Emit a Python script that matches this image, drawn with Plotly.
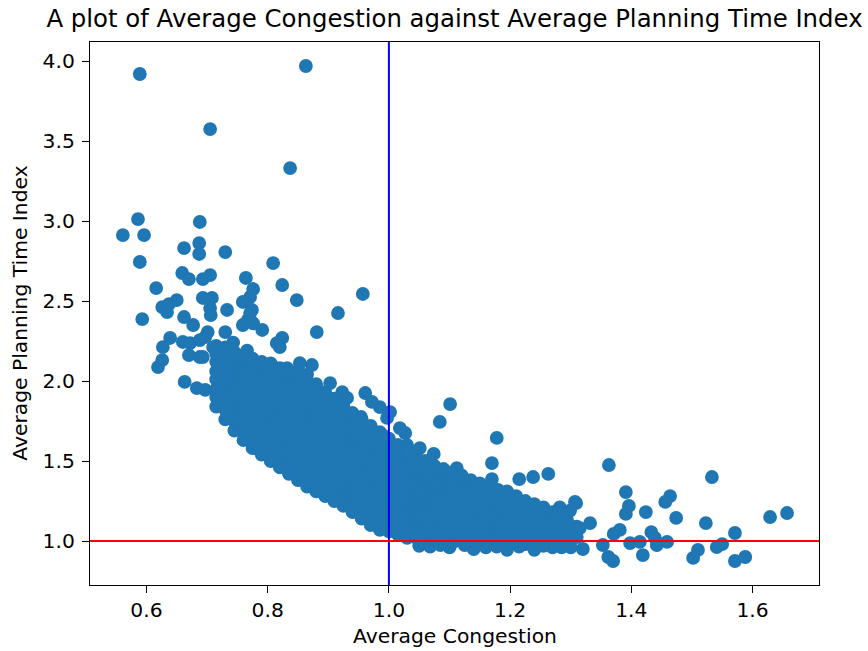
import plotly.graph_objects as go

# ---- data ----
# scattered points above the dense band (congestion, planning time index)
upper_points = [
    (0.589, 3.919), (0.863, 3.969), (0.705, 3.575), (0.837, 3.331),
    (0.586, 3.012), (0.561, 2.912), (0.596, 2.912), (0.688, 2.994),
    (0.662, 2.831), (0.687, 2.862), (0.687, 2.794), (0.730, 2.806),
    (0.589, 2.744), (0.809, 2.737), (0.659, 2.675), (0.670, 2.637),
    (0.693, 2.637), (0.705, 2.662), (0.764, 2.644), (0.824, 2.600),
    (0.616, 2.581), (0.776, 2.575), (0.771, 2.525), (0.693, 2.519),
    (0.708, 2.519), (0.650, 2.506), (0.637, 2.481), (0.626, 2.462),
    (0.634, 2.431), (0.759, 2.494), (0.774, 2.444), (0.733, 2.444),
    (0.705, 2.456), (0.706, 2.412), (0.593, 2.387), (0.662, 2.400),
    (0.677, 2.350), (0.767, 2.381), (0.730, 2.306), (0.701, 2.306),
    (0.791, 2.319), (0.639, 2.269), (0.627, 2.212), (0.660, 2.244),
    (0.672, 2.237), (0.688, 2.256), (0.697, 2.275), (0.824, 2.269),
    (0.820, 2.212), (0.670, 2.162), (0.688, 2.150), (0.626, 2.131),
    (0.619, 2.087), (0.663, 1.994), (0.683, 1.956), (0.697, 1.944),
    (0.848, 2.506), (0.815, 2.237), (0.693, 2.150), (0.771, 2.425),
    (0.759, 2.350), (0.776, 2.360), (0.710, 2.210), (0.743, 2.240),
    (0.766, 2.190), (0.957, 2.544), (0.916, 2.425), (0.881, 2.306),
    (0.873, 2.100), (0.853, 2.112), (0.832, 2.081), (0.903, 1.987),
    (0.923, 1.931), (0.931, 1.894), (0.961, 1.925), (0.972, 1.869),
    (0.985, 1.837), (1.002, 1.806), (0.997, 1.769), (0.954, 1.775),
    (0.990, 1.662), (1.018, 1.706), (1.027, 1.675), (1.030, 1.600),
    (1.051, 1.581), (1.074, 1.544), (1.101, 1.856), (1.084, 1.744),
    (1.112, 1.456), (1.178, 1.644), (1.170, 1.487), (1.263, 1.419),
    (1.238, 1.400), (1.215, 1.387), (1.170, 1.387), (1.307, 1.244),
    (1.282, 1.210), (1.271, 1.150), (1.310, 1.090), (1.310, 1.025),
    (1.290, 1.006), (1.299, 1.190), (1.294, 1.130), (1.287, 1.050),
    (1.285, 0.960),
]

# dense band: congestion column -> planning time index values in that column
dense_columns = [
    (0.715, [1.84, 1.90, 1.95, 2.01, 2.06, 2.12, 2.17, 2.22]),
    (0.730, [1.76, 1.82, 1.87, 1.93, 1.98, 2.04, 2.09, 2.15, 2.21]),
    (0.745, [1.69, 1.75, 1.80, 1.86, 1.91, 1.97, 2.03, 2.08, 2.13, 2.18]),
    (0.760, [1.63, 1.69, 1.74, 1.80, 1.85, 1.91, 1.96, 2.02, 2.07, 2.12, 2.16]),
    (0.775, [1.58, 1.64, 1.69, 1.75, 1.80, 1.86, 1.91, 1.97, 2.03, 2.08, 2.14]),
    (0.790, [1.54, 1.60, 1.65, 1.71, 1.76, 1.82, 1.87, 1.93, 1.98, 2.04, 2.09, 2.12]),
    (0.805, [1.50, 1.56, 1.61, 1.67, 1.72, 1.78, 1.84, 1.89, 1.95, 2.00, 2.06, 2.11]),
    (0.820, [1.46, 1.52, 1.57, 1.63, 1.68, 1.74, 1.80, 1.85, 1.91, 1.96, 2.02, 2.08]),
    (0.835, [1.42, 1.48, 1.53, 1.59, 1.64, 1.70, 1.76, 1.81, 1.87, 1.92, 1.98, 2.03, 2.06]),
    (0.850, [1.38, 1.44, 1.49, 1.55, 1.60, 1.66, 1.72, 1.77, 1.83, 1.88, 1.94, 2.00, 2.06]),
    (0.865, [1.34, 1.40, 1.45, 1.51, 1.56, 1.62, 1.68, 1.73, 1.79, 1.84, 1.90, 1.95, 2.00, 2.04]),
    (0.880, [1.31, 1.37, 1.42, 1.48, 1.53, 1.59, 1.65, 1.70, 1.76, 1.81, 1.87, 1.92, 1.98]),
    (0.895, [1.28, 1.34, 1.39, 1.45, 1.50, 1.56, 1.62, 1.67, 1.73, 1.78, 1.84, 1.89, 1.93]),
    (0.910, [1.25, 1.31, 1.36, 1.42, 1.47, 1.53, 1.59, 1.64, 1.70, 1.75, 1.81, 1.86, 1.89]),
    (0.925, [1.22, 1.28, 1.33, 1.39, 1.44, 1.50, 1.56, 1.61, 1.67, 1.72, 1.78, 1.84]),
    (0.940, [1.18, 1.24, 1.29, 1.35, 1.40, 1.46, 1.52, 1.57, 1.63, 1.68, 1.74, 1.80]),
    (0.955, [1.14, 1.20, 1.25, 1.31, 1.36, 1.42, 1.48, 1.53, 1.59, 1.64, 1.70, 1.76]),
    (0.970, [1.10, 1.16, 1.21, 1.27, 1.32, 1.38, 1.44, 1.49, 1.55, 1.60, 1.66, 1.72]),
    (0.985, [1.07, 1.13, 1.18, 1.24, 1.29, 1.35, 1.41, 1.46, 1.52, 1.57, 1.63, 1.68]),
    (1.000, [1.06, 1.11, 1.17, 1.22, 1.28, 1.34, 1.39, 1.45, 1.50, 1.56, 1.61, 1.64]),
    (1.015, [1.04, 1.10, 1.15, 1.21, 1.26, 1.32, 1.38, 1.43, 1.49, 1.54, 1.60]),
    (1.030, [1.02, 1.08, 1.13, 1.19, 1.24, 1.30, 1.36, 1.41, 1.47, 1.52, 1.56]),
    (1.045, [1.02, 1.07, 1.13, 1.18, 1.24, 1.30, 1.35, 1.41, 1.46, 1.53]),
    (1.060, [1.01, 1.06, 1.12, 1.17, 1.23, 1.29, 1.34, 1.40, 1.45, 1.50]),
    (1.075, [1.00, 1.05, 1.11, 1.16, 1.22, 1.28, 1.33, 1.39, 1.44, 1.47]),
    (1.090, [1.00, 1.05, 1.10, 1.16, 1.21, 1.27, 1.33, 1.38, 1.45]),
    (1.105, [0.99, 1.05, 1.10, 1.16, 1.21, 1.27, 1.32, 1.38, 1.43]),
    (1.120, [1.00, 1.04, 1.10, 1.15, 1.21, 1.26, 1.32, 1.37, 1.41]),
    (1.135, [0.98, 1.04, 1.09, 1.15, 1.20, 1.26, 1.32, 1.38]),
    (1.150, [0.99, 1.04, 1.09, 1.15, 1.20, 1.26, 1.31, 1.36]),
    (1.165, [0.98, 1.04, 1.09, 1.14, 1.20, 1.25, 1.30, 1.34]),
    (1.180, [0.99, 1.04, 1.09, 1.14, 1.20, 1.25, 1.32]),
    (1.195, [0.97, 1.03, 1.08, 1.14, 1.19, 1.25, 1.31]),
    (1.210, [0.99, 1.04, 1.09, 1.14, 1.19, 1.24, 1.28]),
    (1.225, [0.98, 1.03, 1.09, 1.14, 1.19, 1.25]),
    (1.240, [0.99, 1.04, 1.09, 1.14, 1.19, 1.23]),
    (1.255, [1.00, 1.05, 1.10, 1.16, 1.21]),
    (1.270, [1.01, 1.07, 1.12, 1.18]),
    (1.285, [1.02, 1.08, 1.14]),
    (1.300, [1.03, 1.09]),
]

# points that dip just below the red reference line along the band
band_bottom_points = [
    (1.068, 0.965), (1.050, 0.970), (1.100, 0.960), (1.140, 0.950),
    (1.160, 0.960), (1.195, 0.945), (1.240, 0.945), (1.270, 0.960),
    (1.300, 0.960), (1.125, 0.975), (1.215, 0.965), (1.085, 0.975),
    (1.178, 0.965), (1.255, 0.970),
]

# scattered points to the right of the band
right_points = [
    (1.363, 1.475), (1.533, 1.400), (1.391, 1.306), (1.464, 1.281),
    (1.456, 1.244), (1.396, 1.219), (1.424, 1.181), (1.391, 1.169),
    (1.474, 1.144), (1.629, 1.150), (1.657, 1.175), (1.523, 1.112),
    (1.309, 1.237), (1.332, 1.112), (1.315, 1.081), (1.381, 1.069),
    (1.371, 1.044), (1.433, 1.056), (1.439, 1.019), (1.571, 1.050),
    (1.398, 0.987), (1.414, 0.994), (1.442, 0.975), (1.459, 0.994),
    (1.353, 0.975), (1.320, 0.950), (1.419, 0.912), (1.362, 0.900),
    (1.370, 0.875), (1.502, 0.894), (1.510, 0.944), (1.541, 0.962),
    (1.550, 0.981), (1.571, 0.875), (1.588, 0.900),
]

x_ticks = [0.6, 0.8, 1.0, 1.2, 1.4, 1.6]
y_ticks = [1.0, 1.5, 2.0, 2.5, 3.0, 3.5, 4.0]
congestion_ref = 1.0
pti_ref = 1.0

# ---- build series ----
xs, ys = [], []
for px, py in upper_points:
    xs.append(px); ys.append(py)
for cx, col in dense_columns:
    for cy in col:
        xs.append(cx); ys.append(cy)
for px, py in band_bottom_points + right_points:
    xs.append(px); ys.append(py)

font = "DejaVu Sans, Verdana, sans-serif"
tick_size = 20.3
fig = go.Figure()
fig.add_trace(go.Scatter(
    x=xs, y=ys, mode="markers",
    marker=dict(color="#1f77b4", size=12, line=dict(color="#1f77b4", width=1.8)),
    showlegend=False, hoverinfo="skip",
))

axis_common = dict(
    showgrid=False, zeroline=False, showline=True, mirror=True,
    linecolor="black", linewidth=1.1, ticks="outside", ticklen=7,
    tickwidth=1.1, tickcolor="black",
    tickfont=dict(family=font, size=tick_size, color="black"),
)
fig.update_xaxes(range=[0.5068, 1.7097], tickvals=x_ticks,
                 ticktext=[f"{v:.1f}" for v in x_ticks], **axis_common)
fig.update_yaxes(range=[0.725, 4.119], tickvals=y_ticks,
                 ticktext=[f"{v:.1f}" for v in y_ticks],
                 ticklabelstandoff=3, **axis_common)

fig.add_shape(type="line", xref="x", yref="paper", x0=congestion_ref, x1=congestion_ref,
              y0=0, y1=1, line=dict(color="blue", width=2), layer="above")
fig.add_shape(type="line", xref="paper", yref="y", x0=0, x1=1,
              y0=pti_ref, y1=pti_ref, line=dict(color="red", width=2), layer="above")

fig.add_annotation(text="Average Congestion", xref="paper", yref="paper",
                   x=0.5, y=-0.094, xanchor="center", yanchor="middle",
                   showarrow=False, font=dict(family=font, size=tick_size, color="black"))
fig.add_annotation(text="Average Planning Time Index", xref="paper", yref="paper",
                   x=-0.097, y=0.5, xanchor="center", yanchor="middle", textangle=-90,
                   showarrow=False, font=dict(family=font, size=tick_size, color="black"))

fig.update_layout(
    width=868, height=651,
    margin=dict(l=90, r=49, t=42, b=66),
    paper_bgcolor="white", plot_bgcolor="white",
    title=dict(text="A plot of Average Congestion against Average Planning Time Index",
               xref="paper", x=0.5, xanchor="center",
               yref="container", y=1 - 18 / 651, yanchor="middle",
               font=dict(family=font, size=24.4, color="black")),
)

fig.write_html("out.html")
